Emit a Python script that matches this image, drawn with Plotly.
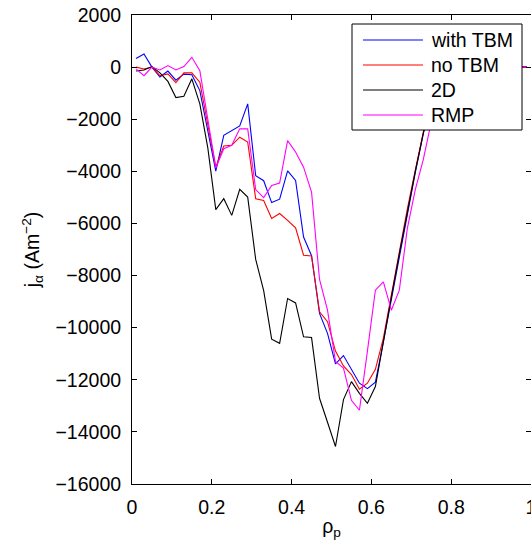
import plotly.graph_objects as go

# normalised poloidal flux coordinate
rho_p = [round(0.01 + 0.02 * k, 2) for k in range(50)]

# alpha-particle current density profiles (A m^-2)
j_with_tbm = [330, 500, 0, -380, -150, -500, -270, -290, -900, -2400,
              -3990, -2620, -2430, -2260, -1410, -4170, -4360, -5200, -5070, -3980,
              -4350, -6520, -7240, -9450, -10220, -11390, -11070, -11620, -12130, -12340,
              -12090, -10550, -8900, -7250, -5600, -4050, -2550, -1250, -300, 0,
              0, 0, 0, 0, 0, 0, 0, 0, 0, 0]
j_no_tbm = [0, -70, 0, -330, -260, -600, -220, -220, -580, -2200,
            -3840, -3030, -3000, -2690, -2880, -5050, -5120, -5810, -5620, -5880,
            -6170, -7220, -7250, -9390, -9770, -10900, -11470, -11800, -12360, -12130,
            -11600, -10400, -8700, -7050, -5450, -3950, -2500, -1200, -300, 0,
            0, 0, 0, 0, 0, 0, 0, 0, 0, 0]
j_2d = [-150, -110, 20, -220, -550, -1170, -1120, -450, -1410, -3100,
        -5470, -5050, -5690, -4690, -4990, -7380, -8580, -10440, -10600, -8880,
        -9050, -10350, -10380, -12710, -13630, -14560, -12760, -12070, -12520, -12900,
        -12260, -10490, -8830, -7170, -5530, -4000, -2550, -1250, -300, 0,
        0, 0, 0, 0, 0, 0, 0, 0, 0, 0]
j_rmp = [-70, -330, 0, -110, 60, -110, 20, 375, -135, -2000,
         -3870, -3130, -3000, -2370, -2370, -4700, -5010, -4540, -4450, -2820,
         -3260, -3840, -4800, -8150, -9330, -11300, -11550, -12790, -13170, -10900,
         -8560, -8240, -9330, -8560, -6200, -4700, -3550, -2100, -700, 0,
         0, 0, 0, 0, 0, 0, 0, 0, 0, 0]

series_names = ["with TBM", "no TBM", "2D", "RMP"]
series_values = [j_with_tbm, j_no_tbm, j_2d, j_rmp]
series_colors = ["#0000ff", "#ff0000", "#000000", "#ff00ff"]

x_ticks = [0, 0.2, 0.4, 0.6, 0.8, 1]
y_ticks = list(range(-16000, 2001, 2000))

FONT = "Liberation Sans, Arial, sans-serif"
FS = 19.5

W, H = 531, 545
ML, MR, MT, MB = 132, 0, 15, 61
PW, PH = W - ML - MR, H - MT - MB


def px_x(px):
    return (px - ML) / PW


def px_y(py):
    return (H - MB - py) / PH


fig = go.Figure()
for name, vals, color in zip(series_names, series_values, series_colors):
    fig.add_trace(go.Scatter(x=rho_p, y=vals, mode="lines", name=name,
                             line=dict(color=color, width=1.1),
                             showlegend=False))

# boxed legend in the upper-right corner with long line samples
shapes = [dict(type="rect", xref="paper", yref="paper",
               x0=px_x(352), x1=px_x(522), y0=px_y(130), y1=px_y(24),
               line=dict(color="black", width=1), fillcolor="white", layer="above")]
annotations = []
for i, (name, color) in enumerate(zip(series_names, series_colors)):
    yc = 40 + 25 * i
    shapes.append(dict(type="line", xref="paper", yref="paper",
                       x0=px_x(363), x1=px_x(423), y0=px_y(yc), y1=px_y(yc),
                       line=dict(color=color, width=1.1), layer="above"))
    annotations.append(dict(xref="paper", yref="paper", x=px_x(429), y=px_y(yc),
                            xanchor="left", yanchor="middle", showarrow=False,
                            text=name, font=dict(family=FONT, size=FS, color="black")))

axis_common = dict(
    showline=True, linecolor="black", linewidth=1, mirror="ticks",
    ticks="inside", ticklen=5, tickcolor="black", tickwidth=1,
    showgrid=False, zeroline=False, automargin=False,
    tickfont=dict(family=FONT, size=FS, color="black"),
)

fig.update_xaxes(range=[0, 1], tickvals=x_ticks,
                 ticktext=["0", "0.2", "0.4", "0.6", "0.8", "1"],
                 ticklabelstandoff=6, ticklabeloverflow="allow",
                 title=dict(text="ρ<sub>p</sub>", standoff=1,
                            font=dict(family=FONT, size=FS, color="black")),
                 **axis_common)
fig.update_yaxes(range=[-16000, 2000], tickvals=y_ticks,
                 ticktext=[str(v).replace("-", "\u2212") for v in y_ticks],
                 ticklabelstandoff=6,
                 title=dict(text="j<sub>α</sub> (Am<sup>\u22122</sup>)", standoff=10,
                            font=dict(family=FONT, size=FS, color="black")),
                 **axis_common)

fig.update_layout(
    width=W, height=H,
    margin=dict(l=ML, r=MR, t=MT, b=MB, autoexpand=False),
    paper_bgcolor="white", plot_bgcolor="white",
    font=dict(family=FONT, size=FS, color="black"),
    showlegend=False,
    shapes=shapes,
    annotations=annotations,
)

fig.write_html("out.html")
